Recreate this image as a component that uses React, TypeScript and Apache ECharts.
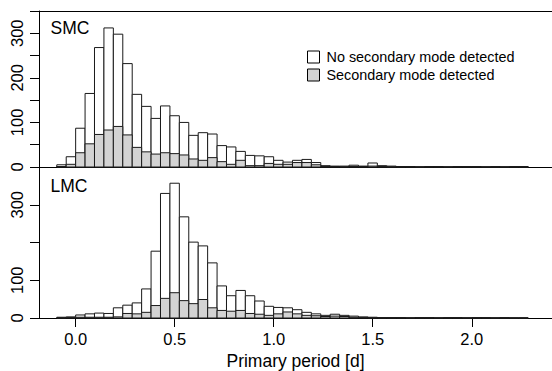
import React, { useEffect, useRef } from 'react';
import * as echarts from 'echarts';

// Histogram bins (primary period, days)
const binStart = -0.0952;
const binWidth = 0.0476;

// SMC: all stars per bin, and those with a secondary mode
const smcAll = [5, 23, 87, 165, 268, 312, 298, 232, 163, 136, 109, 137, 115, 100, 71, 77, 74, 48, 45, 35, 26, 25, 23, 15, 11, 15, 17, 10, 3, 2, 2, 4, 2, 9, 3, 2, 1, 1, 0, 1, 1, 0, 1, 1, 1, 0, 1, 0, 1, 1];
const smcSecondary = [1, 6, 32, 52, 73, 83, 91, 72, 44, 34, 29, 32, 30, 27, 18, 15, 21, 12, 6, 15, 3, 3, 8, 6, 6, 10, 10, 5, 1, 1, 0, 1, 1, 2, 1, 0, 0, 0, 0, 0, 0, 0, 0, 0, 0, 0, 0, 0, 0, 0];
// LMC
const lmcAll = [2, 3, 8, 11, 13, 12, 27, 34, 40, 77, 177, 330, 357, 268, 201, 191, 146, 85, 59, 73, 59, 45, 31, 28, 27, 22, 15, 11, 7, 10, 7, 5, 3, 2, 1, 1, 1, 0, 1, 1, 0, 1, 1, 0, 1, 1, 0, 1, 0, 0];
const lmcSecondary = [0, 1, 2, 2, 2, 2, 3, 12, 11, 15, 33, 52, 67, 46, 38, 49, 27, 20, 18, 20, 12, 10, 7, 11, 16, 11, 7, 6, 4, 5, 4, 2, 1, 0, 0, 0, 0, 0, 0, 0, 0, 0, 0, 0, 0, 0, 0, 0, 0, 0];

const xTicks = [0, 0.5, 1, 1.5, 2];
const smcYLabels = [0, 100, 200, 300];
const lmcYLabels = [0, 100, 300];
const seriesNames = ['No secondary mode detected', 'Secondary mode detected'];
const panelNames = ['SMC', 'LMC'];

const FONT = '"Liberation Sans", Arial, Helvetica, sans-serif';
const WHITE = '#ffffff';
const GRAY = '#d3d3d3';
const EDGE = '#1a1a1a';

function toBins(counts: number[]) {
  return counts.map((c, i) => [binStart + i * binWidth, binStart + (i + 1) * binWidth, c]);
}

function histSeries(name: string, data: number[], fill: string, idx: number, z: number) {
  return {
    type: 'custom',
    name,
    xAxisIndex: idx,
    yAxisIndex: idx,
    z,
    itemStyle: { color: fill, borderColor: '#000' },
    encode: { x: [0, 1], y: 2 },
    data: toBins(data),
    renderItem: (params: any, api: any) => {
      const x0 = api.value(0);
      const x1 = api.value(1);
      const v = api.value(2);
      const p0 = api.coord([x0, 0]);
      const p1 = api.coord([x1, v]);
      return {
        type: 'rect',
        shape: { x: p0[0], y: p1[1], width: p1[0] - p0[0], height: p0[1] - p1[1] },
        style: { fill, stroke: EDGE, lineWidth: 1 },
      };
    },
  };
}

export default function App() {
  const ref = useRef<HTMLDivElement>(null);
  useEffect(() => {
    if (!ref.current) return;
    const chart = echarts.init(ref.current, undefined, { renderer: 'svg' });
    const axisLine = { show: true, onZero: false, lineStyle: { color: '#000', width: 1 } };
    const option: any = {
      animation: false,
      backgroundColor: '#ffffff',
      textStyle: { fontFamily: FONT },
      grid: [
        { left: 39, top: 11, width: 515, height: 156 },
        { left: 39, top: 167, width: 515, height: 152 },
      ],
      xAxis: [
        {
          type: 'value', gridIndex: 0, min: -0.185, max: 2.405,
          axisLine, axisTick: { show: false }, axisLabel: { show: false }, splitLine: { show: false },
        },
        {
          type: 'value', gridIndex: 1, min: -0.185, max: 2.405,
          axisLine,
          axisTick: { show: true, customValues: xTicks, length: 9, lineStyle: { color: '#000' } },
          axisLabel: {
            show: true, customValues: xTicks, formatter: (v: number) => v.toFixed(1),
            fontSize: 16.5, color: '#000', fontFamily: FONT, margin: 21, verticalAlign: 'middle',
          },
          splitLine: { show: false },
          name: 'Primary period [d]', nameLocation: 'middle', nameGap: 43,
          nameTextStyle: { fontSize: 17.5, color: '#000', fontFamily: FONT, verticalAlign: 'middle' },
        },
        {
          type: 'value', gridIndex: 0, position: 'top', min: -0.185, max: 2.405,
          axisLine, axisTick: { show: false }, axisLabel: { show: false }, splitLine: { show: false },
        },
      ],
      yAxis: [
        {
          type: 'value', gridIndex: 0, min: 0, max: 350, interval: 50,
          axisLine, axisTick: { show: true, length: 9, lineStyle: { color: '#000' } },
          axisLabel: {
            customValues: smcYLabels, rotate: 90, fontSize: 16.5, color: '#000', fontFamily: FONT,
            margin: 22, align: 'center', verticalAlign: 'middle',
          },
          splitLine: { show: false },
        },
        {
          type: 'value', gridIndex: 1, min: 0, max: 400, interval: 100,
          axisLine, axisTick: { show: true, length: 9, lineStyle: { color: '#000' } },
          axisLabel: {
            customValues: lmcYLabels, rotate: 90, fontSize: 16.5, color: '#000', fontFamily: FONT,
            margin: 22, align: 'center', verticalAlign: 'middle',
          },
          splitLine: { show: false },
        },
      ],
      legend: {
        data: seriesNames,
        orient: 'vertical',
        left: 302,
        top: 45,
        itemWidth: 12,
        itemHeight: 12,
        itemGap: 4,
        icon: 'rect',
        itemStyle: { borderColor: '#000', borderWidth: 1 },
        textStyle: { fontSize: 14.4, color: '#000', fontFamily: FONT, padding: [0, 0, 0, 2], lineHeight: 14 },
        selectedMode: false,
      },
      graphic: [
        { type: 'text', x: 50.5, y: 27.5, style: { text: panelNames[0], fontSize: 17.5, fontFamily: FONT, fill: '#000', verticalAlign: 'middle' } },
        { type: 'text', x: 50.5, y: 185.8, style: { text: panelNames[1], fontSize: 17.5, fontFamily: FONT, fill: '#000', verticalAlign: 'middle' } },
      ],
      series: [
        histSeries(seriesNames[0], smcAll, WHITE, 0, 2),
        histSeries(seriesNames[1], smcSecondary, GRAY, 0, 3),
        histSeries(seriesNames[0], lmcAll, WHITE, 1, 2),
        histSeries(seriesNames[1], lmcSecondary, GRAY, 1, 3),
      ],
    };
    chart.setOption(option);
    return () => chart.dispose();
  }, []);
  return <div ref={ref} style={{ position: 'fixed', left: 0, top: 0, width: 552, height: 371, background: '#fff' }} />;
}
